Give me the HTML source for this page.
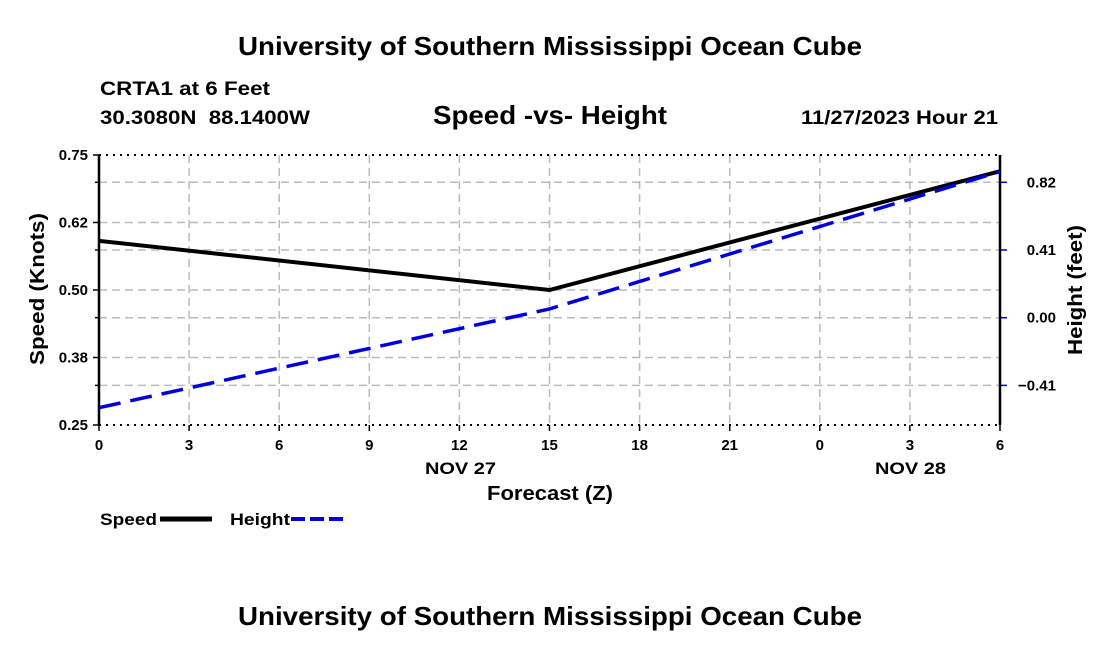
<!DOCTYPE html>
<html><head><meta charset="utf-8"><style>
body{margin:0;background:#fff;width:1100px;height:650px;overflow:hidden;font-family:"Liberation Sans",sans-serif}
svg{display:block}
text{font-family:"Liberation Sans",sans-serif;font-weight:bold;fill:#000}
</style></head><body>
<svg id="chart" width="1100" height="650">
<text x="238" y="55" font-size="26" textLength="624" lengthAdjust="spacingAndGlyphs">University of Southern Mississippi Ocean Cube</text>
<text x="100" y="95" font-size="19" textLength="170" lengthAdjust="spacingAndGlyphs">CRTA1 at 6 Feet</text>
<text x="100" y="124" font-size="19" textLength="210" lengthAdjust="spacingAndGlyphs" xml:space="preserve">30.3080N  88.1400W</text>
<text x="433" y="124" font-size="26" textLength="234" lengthAdjust="spacingAndGlyphs">Speed -vs- Height</text>
<text x="801" y="124" font-size="19" textLength="197" lengthAdjust="spacingAndGlyphs">11/27/2023 Hour 21</text>
<g id="grid"></g>
<g id="axes"></g>
<g id="series"></g>
<text x="487" y="500" font-size="20" textLength="126" lengthAdjust="spacingAndGlyphs">Forecast (Z)</text>
<text x="425" y="474" font-size="17" textLength="71" lengthAdjust="spacingAndGlyphs">NOV 27</text>
<text x="875" y="474" font-size="17" textLength="71" lengthAdjust="spacingAndGlyphs">NOV 28</text>
<text transform="translate(44,289) rotate(-90)" font-size="20" text-anchor="middle" textLength="152" lengthAdjust="spacingAndGlyphs">Speed (Knots)</text>
<text transform="translate(1082,290) rotate(-90)" font-size="20" text-anchor="middle" textLength="130" lengthAdjust="spacingAndGlyphs">Height (feet)</text>
<g>
<text x="100" y="525" font-size="17" textLength="57" lengthAdjust="spacingAndGlyphs">Speed</text>
<line x1="160" y1="519" x2="212" y2="519" stroke="#000" stroke-width="5"/>
<text x="230" y="525" font-size="17" textLength="60" lengthAdjust="spacingAndGlyphs">Height</text>
<line x1="291" y1="519" x2="343" y2="519" stroke="#0000dd" stroke-width="4" stroke-dasharray="14,5"/>
</g>
<text x="238" y="625" font-size="26" textLength="624" lengthAdjust="spacingAndGlyphs">University of Southern Mississippi Ocean Cube</text>
</svg>
<script>
const xHours=[0,3,6,9,12,15,18,21,24,27,30];
const xTickLabels=["0","3","6","9","12","15","18","21","0","3","6"];
const leftTicks=[0.25,0.375,0.5,0.625,0.75];
const leftTickLabels=["0.25","0.38","0.50","0.62","0.75"];
const rightTicks=[-0.41,0,0.41,0.82];
const rightTickLabels=["\u22120.41","0.00","0.41","0.82"];
const speedHours=[0,15,30];
const speedValues=[0.591,0.50,0.72];
const heightHours=[0,15,30];
const heightValues=[-0.545,0.053,0.885];

const L=99,R=1000,T=155,B=425;
const X=h=>L+(h/30)*(R-L);
const YL=v=>B-(v-0.25)/0.5*(B-T);
const Y0=317.7,PR=67.7/0.41;
const YR=v=>Y0-v*PR;
const NS="http://www.w3.org/2000/svg";
function mk(tag,parent,attrs){const e=document.createElementNS(NS,tag);for(const k in attrs)e.setAttribute(k,attrs[k]);parent.appendChild(e);return e;}
const grid=document.getElementById('grid'),axes=document.getElementById('axes'),ser=document.getElementById('series');
const dash={stroke:"#bbb","stroke-width":1.5,"stroke-dasharray":"8,5"};
xHours.forEach((h,i)=>{
 const g=mk('line',grid,Object.assign({x1:X(h),x2:X(h),y1:T,y2:B},dash));
 
 
 const t=mk('line',axes,{x1:X(h),x2:X(h),y1:B,y2:B+6,stroke:"#000","stroke-width":1.5});
 
 
 const lb=mk('text',axes,{x:X(h),y:B+25,"font-size":15,"text-anchor":"middle"});lb.textContent=xTickLabels[i];
 
 
});
leftTicks.forEach((v,i)=>{
 const y=YL(v);
 if(i>0&&i<leftTicks.length-1){const g=mk('line',grid,Object.assign({x1:L,x2:R,y1:y,y2:y},dash));
 
 }
 const t=mk('line',axes,{x1:L-6,x2:L,y1:y,y2:y,stroke:"#000","stroke-width":1.5});
 
 
 const lb=mk('text',axes,{x:L-11,y:y+5,"font-size":15,"text-anchor":"end"});lb.textContent=leftTickLabels[i];
 
 
});
rightTicks.forEach((v,i)=>{
 const y=YR(v);
 const g=mk('line',grid,Object.assign({x1:L,x2:R,y1:y,y2:y},dash));
 
 
 const t=mk('line',axes,{x1:R,x2:R+7,y1:y,y2:y,stroke:"#0000aa","stroke-width":1.5});
 
 
 const t2=mk('line',axes,{x1:L-4,x2:L,y1:y,y2:y,stroke:"#000","stroke-width":1.5});
 
 
 const lb=mk('text',axes,{x:1056,y:y+5,"font-size":15,"text-anchor":"end"});lb.textContent=rightTickLabels[i];
 
 
});
[T,B].forEach(y=>{
 const a=mk('line',axes,{x1:L,x2:R,y1:y,y2:y,stroke:"#000","stroke-width":2,"stroke-dasharray":"2,5"});
 
 
});
[L,R].forEach(x=>{
 const a=mk('line',axes,{x1:x,x2:x,y1:T,y2:B,stroke:"#000","stroke-width":2.5});
 
 
});
const sp=mk('polyline',ser,{points:speedHours.map((h,i)=>X(h)+','+YL(speedValues[i])).join(' '),fill:"none",stroke:"#000","stroke-width":4});


const hp=mk('polyline',ser,{points:heightHours.map((h,i)=>X(h)+','+YR(heightValues[i])).join(' '),fill:"none",stroke:"#0000dd","stroke-width":3.5,"stroke-dasharray":"22,10"});


</script>
</body></html>
